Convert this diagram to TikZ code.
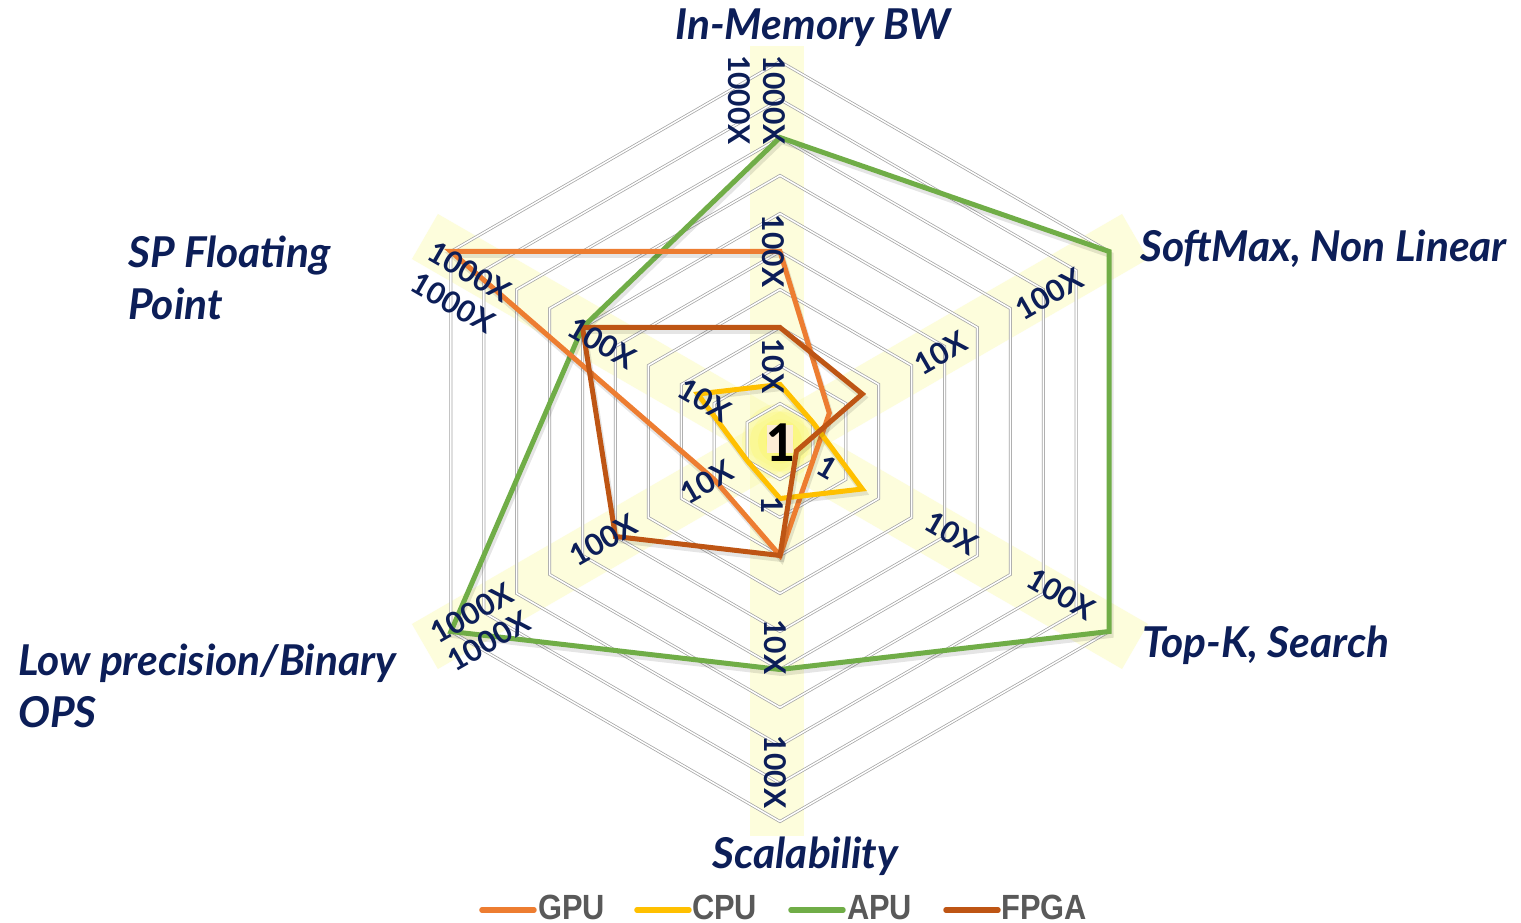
\documentclass[tikz,border=0pt]{standalone}
\usepackage{fontspec}
\usepackage{graphicx}
\IfFontExistsTF{Lato Bold}
  {\newfontfamily\lato{Lato}[BoldFont={Lato Bold}, BoldItalicFont={Lato Bold Italic}]}
  {\newfontfamily\lato{Lato}}
\newfontfamily\legendfont{Liberation Sans}
\newfontfamily\calfont{Carlito}

\definecolor{navy}{RGB}{12,30,88}
\definecolor{gpucol}{RGB}{237,125,49}
\definecolor{cpucol}{RGB}{255,192,0}
\definecolor{apucol}{RGB}{112,173,71}
\definecolor{fpgacol}{RGB}{190,85,20}
\definecolor{gridcol}{RGB}{165,165,165}
\definecolor{bandcol}{RGB}{250,250,165}
\definecolor{legtextcol}{RGB}{89,89,89}
\definecolor{beige}{RGB}{252,236,212}

% one closed line through the six axes (top, softmax, top-k, scalability, low precision, sp)
\newcommand\radarseries[7]{%
  \draw[shadowline, shift={(1.5,-3.5)}] (90:#2) -- (30:#3) -- (-30:#4) -- (270:#5) -- (210:#6) -- (150:#7) -- cycle;
  \draw[series, draw=#1] (90:#2) -- (30:#3) -- (-30:#4) -- (270:#5) -- (210:#6) -- (150:#7) -- cycle;
}

\begin{document}
\begin{tikzpicture}[x=1pt, y=1pt,
  gridline/.style={draw=gridcol, line width=0.75, double=white, double distance=1.5},
  band/.style={fill=bandcol, opacity=0.38},
  series/.style={line width=5, line join=miter},
  shadowline/.style={line width=6, draw=black, opacity=0.10, line join=miter},
  axistitle/.style={text=navy, font=\lato\bfseries\itshape\fontsize{42.5}{52}\selectfont, inner sep=0},
  ticklabel/.style={text=navy, font=\lato\bfseries\fontsize{30}{32}\selectfont, inner sep=0},
  legline/.style={line width=5.5, line cap=round},
  legtext/.style={text=legtextcol, font=\legendfont\bfseries\fontsize{35}{36}\selectfont, inner sep=0, anchor=base west}
]
% page frame
\fill[white] (-780,-481.5) rectangle (741,441.5);
\useasboundingbox (-780,-481.5) rectangle (741,441.5);

% highlighted axis bands
\fill[band] (-30,-394.5) rectangle (24,395.5);
\fill[band, rotate=30] (-410,-26) rectangle (410,26);
\fill[band, rotate=-30] (-410,-26) rectangle (410,26);

% glow at the centre
\foreach \g in {38,30,22,14}
  \fill[yellow, opacity=0.10] (0,0) circle (\g);

% hexagonal grid, ten rings
\foreach \k in {1,...,10}{
  \pgfmathsetmacro\rr{\k*38}
  \draw[gridline] (90:\rr) -- (30:\rr) -- (-30:\rr) -- (270:\rr) -- (210:\rr) -- (150:\rr) -- cycle;
}

% data series
\radarseries{apucol}{304}{380}{380}{228}{380}{228}
\radarseries{gpucol}{190}{57}{38}{114}{76}{380}
\radarseries{cpucol}{57}{38}{95}{57}{38}{95}
\radarseries{fpgacol}{114}{95}{19}{114}{190}{228}

% scale labels, vertical axis
\node[ticklabel, rotate=-90] (t1) at (-6,341.5) {1000X};
\node[ticklabel, rotate=-90] (t2) at (-41,341.5) {1000X};
\node[ticklabel, rotate=-90] (t3) at (-7,190.5) {100X};
\node[ticklabel, rotate=-90] (t4) at (-7,75.5) {10X};
\node[ticklabel, rotate=-90] (b1) at (-8,-63.5) {1};
\node[ticklabel, rotate=-90] (b2) at (-5,-205.5) {10X};
\node[ticklabel, rotate=-90] (b3) at (-5,-330.5) {100X};
% softmax axis
\node[ticklabel, rotate=30] (s1) at (161,88.5) {10X};
\node[ticklabel, rotate=30] (s2) at (269,147.5) {100X};
% top-k axis
\node[ticklabel, rotate=-30] (k1) at (47,-25.5) {1};
\node[ticklabel, rotate=-30] (k2) at (172,-91.5) {10X};
\node[ticklabel, rotate=-30] (k3) at (281,-152.5) {100X};
% sp floating point axis
\node[ticklabel, rotate=-30] (f1) at (-310,169.5) {1000X};
\node[ticklabel, rotate=-30] (f2) at (-327,138.5) {1000X};
\node[ticklabel, rotate=-30] (f3) at (-178,98.5) {100X};
\node[ticklabel, rotate=-30] (f4) at (-75,41.5) {10X};
% low precision axis
\node[ticklabel, rotate=30] (l1) at (-73,-40.5) {10X};
\node[ticklabel, rotate=30] (l2) at (-177,-98.5) {100X};
\node[ticklabel, rotate=30] (l3) at (-308,-171.5) {1000X};
\node[ticklabel, rotate=30] (l4) at (-291,-199.5) {1000X};

% centre value
\fill[beige] (-13,16.5) rectangle (13,-11.5);
\node[inner sep=0, font=\calfont\bfseries\fontsize{58}{60}\selectfont] (one) at (0,-1.5) {1};

% axis titles
\node[axistitle, anchor=base] (tmem) at (33,401.5) {In-Memory BW};
\node[axistitle, anchor=base west] (tsoft) at (360,179.5) {SoftMax, Non Linear};
\node[axistitle, anchor=base west] (ttopk) at (362,-215.5) {Top-K, Search};
\node[axistitle, anchor=base] (tscal) at (25.5,-426.5) {Scalability};
\node[axistitle, anchor=north west, align=left] (tsp) at (-652,205.5) {SP Floating\\Point};
\node[axistitle, anchor=north west, align=left] (tlow) at (-762,-202.5) {Low precision/Binary\\OPS};

% legend
\draw[legline, gpucol] (-298,-468.5) -- (-246,-468.5);
\node[legtext] (lgpu) at (-242,-477.5) {\scalebox{0.88}[1]{GPU}};
\draw[legline, cpucol] (-143,-468.5) -- (-91,-468.5);
\node[legtext] (lcpu) at (-88,-477.5) {\scalebox{0.88}[1]{CPU}};
\draw[legline, apucol] (11,-468.5) -- (63,-468.5);
\node[legtext] (lapu) at (67,-477.5) {\scalebox{0.88}[1]{APU}};
\draw[legline, fpgacol] (166,-468.5) -- (218,-468.5);
\node[legtext] (lfpga) at (221,-477.5) {\scalebox{0.88}[1]{FPGA}};
\end{tikzpicture}
\end{document}
